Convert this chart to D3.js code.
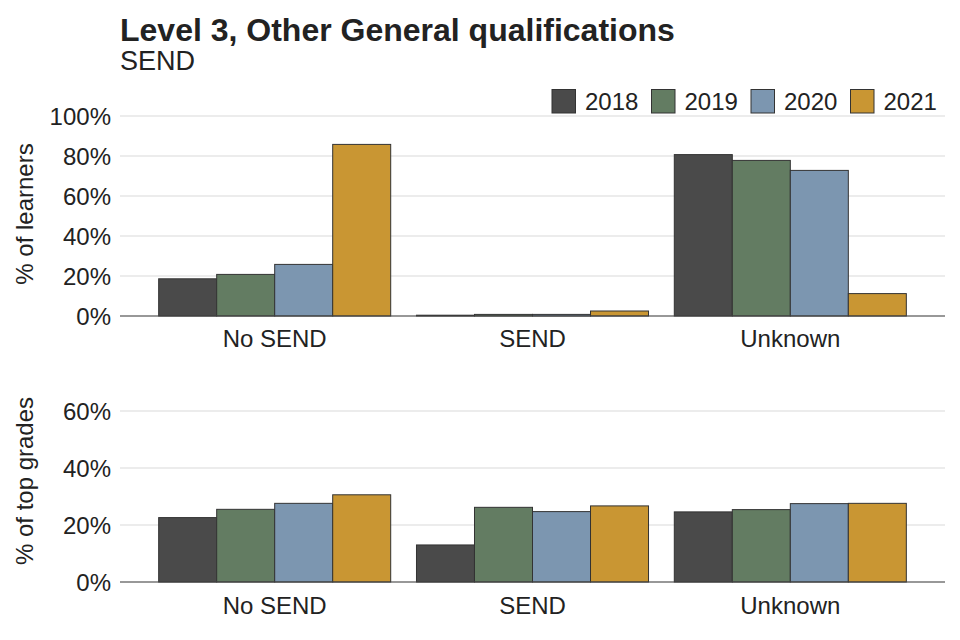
<!DOCTYPE html>
<html><head><meta charset="utf-8">
<script src="https://cdn.jsdelivr.net/npm/d3@7"></script>
<style>body{margin:0;background:#fff}text{font-family:"Liberation Sans",Arial,sans-serif}</style>
</head><body><svg id="c" width="960" height="640"></svg>
<script>
const categories = ["No SEND", "SEND", "Unknown"];
const years = ["2018", "2019", "2020", "2021"];
const colors = ["#4a4a4a", "#637c62", "#7c96b0", "#c99633"];
// % of learners, per year, per category
const learners = {
  "2018": [18.6, 0.4, 80.7],
  "2019": [20.8, 0.8, 77.8],
  "2020": [25.8, 0.8, 72.8],
  "2021": [85.8, 2.5, 11.2]
};
// % of top grades
const topGrades = {
  "2018": [22.6, 13.0, 24.6],
  "2019": [25.5, 26.2, 25.4],
  "2020": [27.6, 24.7, 27.5],
  "2021": [30.6, 26.7, 27.6]
};
const learnerTicks = [0, 20, 40, 60, 80, 100];
const gradeTicks = [0, 20, 40, 60];

const svg = d3.select("#c");
const left = 120, right = 945;
const x = d3.scalePoint().domain(categories).range([left, right]).padding(0.6);
const groupW = x.step() * 0.9;
const xi = d3.scaleBand().domain(years).range([-groupW/2, groupW/2]);
const color = d3.scaleOrdinal().domain(years).range(colors);

function panel(data, yDomain, yRange, ticks, label, labelY, catY) {
  const y = d3.scaleLinear().domain(yDomain).range(yRange);
  const g = svg.append("g");
  g.selectAll("line.grid").data(ticks).join("line")
    .attr("x1", left).attr("x2", right)
    .attr("y1", d => y(d)).attr("y2", d => y(d))
    .attr("stroke", "#d9d9d9").attr("stroke-width", 1);
  g.selectAll("text.tick").data(ticks).join("text")
    .attr("x", 111).attr("y", d => y(d)).attr("dy", "0.36em")
    .attr("text-anchor", "end").attr("font-size", 24).attr("fill", "#222")
    .text(d => d + "%");
  years.forEach(yr => {
    g.selectAll(null).data(categories).join("rect")
      .attr("x", c => x(c) + xi(yr))
      .attr("width", xi.bandwidth())
      .attr("y", (c, i) => y(data[yr][i]))
      .attr("height", (c, i) => y(0) - y(data[yr][i]))
      .attr("fill", color(yr)).attr("stroke", "#333").attr("stroke-width", 1);
  });
  g.append("line").attr("x1", left).attr("x2", right)
    .attr("y1", y(0)).attr("y2", y(0)).attr("stroke", "#444").attr("stroke-width", 1.2);
  g.selectAll("text.cat").data(categories).join("text")
    .attr("x", c => x(c)).attr("y", catY).attr("text-anchor", "middle")
    .attr("font-size", 24).attr("fill", "#222").text(c => c);
  g.append("text").attr("transform", `translate(33,${labelY}) rotate(-90)`)
    .attr("text-anchor", "middle").attr("font-size", 24).attr("fill", "#222").text(label);
}

panel(learners, [0, 100], [316, 116], learnerTicks, "% of learners", 214, 347);
panel(topGrades, [0, 60], [582, 411], gradeTicks, "% of top grades", 481, 614);

svg.append("text").attr("x", 120).attr("y", 41).attr("font-size", 32)
  .attr("font-weight", "bold").attr("fill", "#222").text("Level 3, Other General qualifications");
svg.append("text").attr("x", 120).attr("y", 70).attr("font-size", 27)
  .attr("fill", "#222").text("SEND");

const lg = svg.append("g");
years.forEach((yr, i) => {
  const lx = 552 + i * 99.5;
  lg.append("rect").attr("x", lx).attr("y", 89.5).attr("width", 23.5).attr("height", 23.5)
    .attr("fill", color(yr)).attr("stroke", "#333").attr("stroke-width", 1);
  lg.append("text").attr("x", lx + 33).attr("y", 101.5).attr("dy", "0.36em")
    .attr("font-size", 24).attr("fill", "#222").text(yr);
});
</script></body></html>
